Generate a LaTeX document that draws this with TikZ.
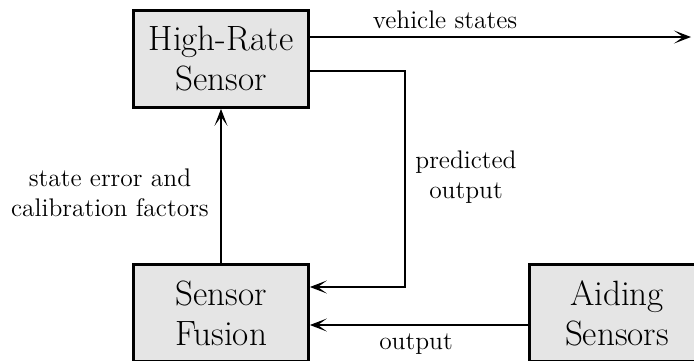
\documentclass[tikz,border=0pt]{standalone}
\usetikzlibrary{arrows.meta}

\tikzset{
  block/.style={draw,line width=1.6pt,fill=gray!20,minimum width=3.5cm,minimum height=1.94cm,
    align=center,inner sep=0pt,font=\fontsize{20}{22.8}\selectfont},
  conn/.style={line width=0.8pt,-{Stealth[length=3.4mm,width=2.6mm,inset=1.8mm]}},
  lbl/.style={draw=none,align=center,font=\fontsize{14.5}{17}\selectfont}
}

\begin{document}
\begin{tikzpicture}[x=0.02cm,y=-0.02cm]
  \clip (0,0) rectangle (694,360);

  % blocks
  \node[block] (hrs) at (221,59) {High-Rate\\Sensor};
  \node[block] (fusion) at (221,313) {Sensor\\Fusion};
  \node[block] (aiding) at (617,313) {Aiding\\Sensors};

  % corner points of the connectors
  \coordinate (vs) at (691,37);
  \coordinate (pa) at (405,71);
  \coordinate (pb) at (405,287);
  \coordinate (ob) at (528,325);

  \draw[conn] (hrs.east |- vs) -- (vs);
  \draw[conn] (hrs.east |- pa) -- (pa) -- (pb) -- (fusion.east |- pb);
  \draw[conn] (fusion.north) -- (hrs.south);
  \draw[conn] (aiding.west |- ob) -- (fusion.east |- ob);

  % labels
  \node[lbl,anchor=south] (lblvs) at (445,35) {vehicle states};
  \node[lbl] (lblpo) at (466,177) {predicted\\output};
  \node[lbl,anchor=east] (lblse) at (215,193) {state error and\\calibration factors};
  \node[lbl,anchor=north] (lblout) at (416,328) {output};
\end{tikzpicture}
\end{document}
